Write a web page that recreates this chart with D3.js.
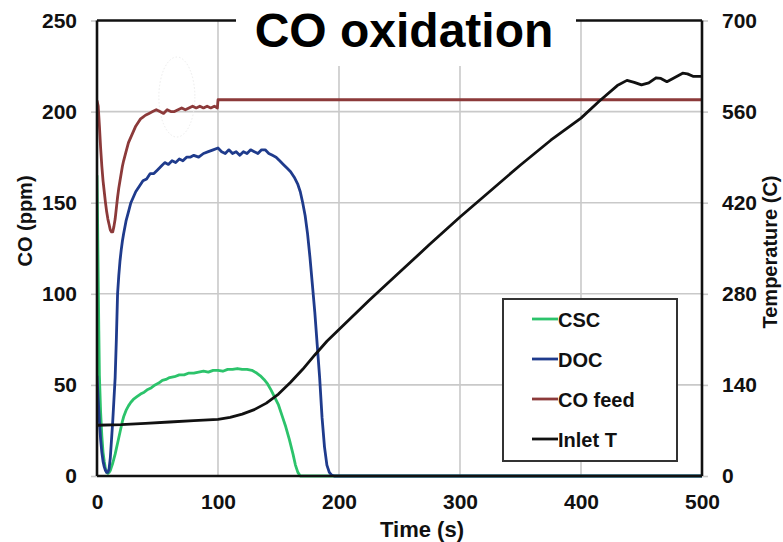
<!DOCTYPE html>
<html>
<head>
<meta charset="utf-8">
<script src="https://cdn.jsdelivr.net/npm/d3@7/dist/d3.min.js"></script>
<style>
  html, body { margin: 0; padding: 0; background: #fff; }
  svg { display: block; font-family: "Liberation Sans", Arial, sans-serif; font-weight: bold; }
</style>
</head>
<body>
<svg id="chart" width="783" height="542"></svg>
<script>
// Time axis ticks and the two value axes
const timeTicks = [0, 100, 200, 300, 400, 500];
const coTicks = [0, 50, 100, 150, 200, 250];
const tempTicks = [0, 140, 280, 420, 560, 700];

// CSC outlet CO (ppm)
const cscTime = [0,0.5,1,1.5,2,3,4,5,6,7,8,9,10,11,12,13,14,15,16,17,18,19,20,21,22,24,26,28,30,33,36,39,42,45,48,51,54,57,60,64,68,72,76,80,84,88,92,96,100,104,108,112,116,120,124,128,132,135,138,141,144,147,150,153,156,159,162,164,166,168,200,500];
const cscCO   = [165,140,110,80,55,35,22,13,8,4,2,1.5,2,3,5,7,9.5,12,15,18,21,24,27,30,32.5,36,38.5,40.5,42,43.5,45,46,47.5,48.5,50,51,52.5,53,54,54.5,55.5,55.5,56.5,56.5,57,57.5,57,58,58,57.5,58.5,58.5,59,58.5,58.5,58,56.5,55,53,50.5,47,43,39,33,27,20,12,6,2,0,0,0];

// DOC outlet CO (ppm)
const docTime = [0,1,2,3,4,5,6,7,8,9,10,11,12,13,14,15,16,17,18,19,20,21,22,24,26,28,30,32,35,38,41,44,47,50,53,56,59,62,65,68,71,74,77,80,84,88,92,96,100,103,106,109,112,115,118,121,124,127,130,133,136,139,142,145,148,151,154,157,160,163,166,168,170,172,174,176,178,180,182,184,186,188,190,192,194,196,500];
const docCO   = [55,42,30,20,13,8,5,3,2,2,4,10,20,30,42,54,75,100,110,118,124,129,133,140,145,150,153,156,159,162,163,166,166,168,170,172,171,173,172,174,173,175,175,176,175,177,178,179,180,178,177,179,177,178,176,178,177,179,178,177,179,179,177,176,175,173,171,169,167,164,160,156,150,143,133,120,105,90,72,54,32,16,6,2,0.5,0,0];

// CO feed (ppm)
const feedTime = [0,1,2,3,4,5,6,7,8,9,10,11,12,13,14,15,16,17,18,19,20,21,22,24,26,28,30,32,34,36,38,40,43,46,49,52,55,58,61,64,67,70,73,76,79,82,85,88,91,94,97,99.5,100,500];
const feedCO   = [206,203,192,180,170,162,156,150,145,141,138,135,134,134,137,141,147,153,158,162,166,170,173,178,183,186,189,192,194,196,197,198,199,200,201,200,199,201,200,200,201,202,201,202,203,202,203,202,203,202,203,202,206.5,206.5];

// Inlet temperature (C)
const inletTime = [0,20,40,60,80,100,110,120,130,140,150,160,170,180,190,200,225,250,275,300,325,350,375,400,415,430,438,444,450,456,462,466,471,476,484,488,493,500];
const inletT    = [78,79,81,83,85,87,90,95,102,112,126,144,164,186,207,225,270,313,356,398,438,478,516,550,576,600,608,605,601,604,612,611,606,611,619,618,614,614];

const legendNames = ["CSC", "DOC", "CO feed", "Inlet T"];
const colors = { CSC: "#2cc36b", DOC: "#1f3b8c", "CO feed": "#8c3a3a", "Inlet T": "#111111" };

const svg = d3.select("#chart");
const plotL = 97, plotR = 702, plotT = 20.5, plotB = 476;

const x = d3.scaleLinear().domain([0, 500]).range([plotL, plotR]);
const yL = d3.scaleLinear().domain([0, 250]).range([plotB, plotT]);
const yR = d3.scaleLinear().domain([0, 700]).range([plotB, plotT]);

// grid lines
const grid = svg.append("g").attr("stroke", "#c9c9c9").attr("stroke-width", 1.6);
grid.selectAll(".gx").data(timeTicks.slice(1, -1)).join("line")
  .attr("x1", d => x(d)).attr("x2", d => x(d))
  .attr("y1", plotT).attr("y2", plotB);
grid.selectAll(".gy").data(coTicks.slice(1, -1)).join("line")
  .attr("x1", plotL).attr("x2", plotR)
  .attr("y1", d => yL(d)).attr("y2", d => yL(d));

// axes built from d3 axis generators
const axisLeft = d3.axisLeft(yL).tickValues(coTicks).tickSize(6).tickPadding(14);
const axisRight = d3.axisRight(yR).tickValues(tempTicks).tickSize(6).tickPadding(14);
const axisBottom = d3.axisBottom(x).tickValues(timeTicks).tickSize(0).tickPadding(18);

function styleAxis(g) {
  g.select(".domain").remove();
  g.selectAll(".tick line").attr("stroke", "#c9c9c9").attr("stroke-width", 1.6);
  g.selectAll(".tick text").attr("fill", "#111").style("font-size", "21px").style("font-weight", "bold")
    .style("font-family", '"Liberation Sans", Arial, sans-serif');
}
svg.append("g").attr("transform", `translate(${plotL},0)`).call(axisLeft).call(styleAxis);
svg.append("g").attr("transform", `translate(${plotR},0)`).call(axisRight).call(styleAxis);
svg.append("g").attr("transform", `translate(0,${plotB})`).call(axisBottom).call(styleAxis);

// faint dotted ellipse in the upper plot area
svg.append("ellipse").attr("cx", x(66)).attr("cy", yL(208)).attr("rx", 18).attr("ry", 40)
  .attr("fill", "none").attr("stroke", "#ececec").attr("stroke-width", 1).attr("stroke-dasharray", "1.5,2");

// series lines
svg.append("clipPath").attr("id", "plotclip").append("rect")
  .attr("x", plotL).attr("y", plotT).attr("width", plotR - plotL).attr("height", plotB - plotT + 2);

function draw(times, vals, yScale, color) {
  const pts = times.map((t, i) => [t, vals[i]]);
  svg.append("path").datum(pts)
    .attr("clip-path", "url(#plotclip)")
    .attr("fill", "none").attr("stroke", color).attr("stroke-width", 2.8)
    .attr("stroke-linejoin", "round")
    .attr("d", d3.line().x(d => x(d[0])).y(d => yScale(d[1])));
}
draw(cscTime, cscCO, yL, colors.CSC);
draw(docTime, docCO, yL, colors.DOC);
draw(feedTime, feedCO, yL, colors["CO feed"]);
draw(inletTime, inletT, yR, colors["Inlet T"]);

// plot frame
const frame = svg.append("g").attr("stroke", "#111").attr("stroke-width", 2.6).attr("fill", "none");
frame.append("line").attr("x1", plotL).attr("x2", plotL).attr("y1", plotT).attr("y2", plotB);
frame.append("line").attr("x1", plotR).attr("x2", plotR).attr("y1", plotT).attr("y2", plotB);
frame.append("line").attr("x1", plotL).attr("x2", plotR).attr("y1", plotB).attr("y2", plotB);
frame.append("line").attr("x1", plotL).attr("x2", plotR).attr("y1", plotT).attr("y2", plotT);

// title on a white panel that breaks the top border
svg.append("rect").attr("x", 236).attr("y", 0).attr("width", 340).attr("height", 66).attr("fill", "#fff");
svg.append("text").attr("x", 404).attr("y", 47).attr("text-anchor", "middle")
  .style("font-size", "48px").attr("fill", "#000").text("CO oxidation");

// axis titles
svg.append("text").attr("transform", "translate(32,221) rotate(-90)").attr("text-anchor", "middle")
  .style("font-size", "20px").attr("fill", "#111").text("CO (ppm)");
svg.append("text").attr("transform", "translate(777,252) rotate(-90)").attr("text-anchor", "middle")
  .style("font-size", "20px").attr("fill", "#111").text("Temperature (C)");
svg.append("text").attr("x", 422).attr("y", 537).attr("text-anchor", "middle")
  .style("font-size", "22px").attr("fill", "#111").text("Time (s)");

// legend
const lg = svg.append("g");
lg.append("rect").attr("x", 503).attr("y", 299).attr("width", 174).attr("height", 162)
  .attr("fill", "#fff").attr("stroke", "#333").attr("stroke-width", 2);
legendNames.forEach((name, i) => {
  const cy = 319 + i * 40;
  lg.append("line").attr("x1", 532).attr("x2", 558).attr("y1", cy).attr("y2", cy)
    .attr("stroke", colors[name]).attr("stroke-width", 2.8);
  lg.append("text").attr("x", 558).attr("y", cy + 7.5)
    .style("font-size", "20px").attr("fill", "#111").text(name);
});
</script>
</body>
</html>
